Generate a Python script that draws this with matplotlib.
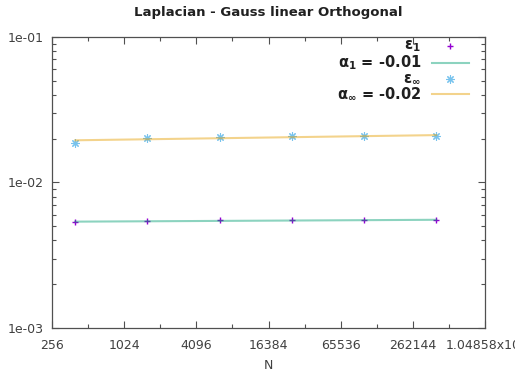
import matplotlib.pyplot as plt
import numpy as np

# number of cells and the two error norms
N = [400, 1600, 6400, 25600, 102400, 409600]
err_1 = [0.00536, 0.00540, 0.00548, 0.00550, 0.00550, 0.00552]
err_inf = [0.01877, 0.0203, 0.02065, 0.0207, 0.0207, 0.0208]

x_ticks = [256, 1024, 4096, 16384, 65536, 262144, 1048576]
x_ticklabels = ['256', '1024', '4096', '16384', '65536', '262144', '1.04858x10⁶']
y_ticks = [1e-3, 1e-2, 1e-1]
y_ticklabels = ['1e-03', '1e-02', '1e-01']

c_e1 = '#9400d3'
c_fit1 = '#009e73'
c_einf = '#56b4e9'
c_fitinf = '#e69f00'

fig = plt.figure(figsize=(5.15, 3.77), dpi=100)
ax = fig.add_axes([0.101, 0.130, 0.841, 0.772])

# power-law fits in log space
logN = np.log(N)
p1 = np.polyfit(logN, np.log(err_1), 1)
pinf = np.polyfit(logN, np.log(err_inf), 1)
xx = np.array([N[0], N[-1]])

ax.plot(N, err_1, '+', color=c_e1, ms=5, mew=1.0)
ax.plot(xx, np.exp(np.polyval(p1, np.log(xx))), color=c_fit1, lw=1.5, alpha=0.45)
ax.plot(N, err_inf, marker=(8, 2, 0), ls='none', color=c_einf, ms=6, mew=0.8, alpha=0.8)
ax.plot(xx, np.exp(np.polyval(pinf, np.log(xx))), color=c_fitinf, lw=1.5, alpha=0.45)

ax.set_xscale('log', base=2)
ax.set_yscale('log')
ax.set_xlim(256, 1048576)
ax.set_ylim(1e-3, 1e-1)

ax.set_xticks(x_ticks)
ax.set_xticklabels(x_ticklabels)
ax.set_xticks([512 * 4 ** k for k in range(6)], minor=True)
ax.set_yticks(y_ticks)
ax.set_yticklabels(y_ticklabels)
ax.set_yticks([m * 10.0 ** e for e in (-3, -2) for m in range(2, 10)], minor=True)
ax.xaxis.set_minor_formatter(plt.NullFormatter())
ax.yaxis.set_minor_formatter(plt.NullFormatter())

for s in ax.spines.values():
    s.set_color('#505050')
    s.set_linewidth(0.9)
ax.tick_params(which='both', direction='in', top=True, right=True, colors='#505050',
               labelcolor='#404040', labelsize=9, width=0.8)
ax.tick_params(which='major', length=5, pad=6)
ax.tick_params(axis='x', which='major', pad=8)
ax.tick_params(which='minor', length=3)

ax.set_xlabel('N', fontsize=9, color='#404040', labelpad=5)
ax.set_title('Laplacian - Gauss linear Orthogonal', fontsize=9.5, fontweight='bold',
             color='#202020', pad=15)

# key in the upper right corner
rows = [0.968, 0.912, 0.857, 0.805]
tx, sx0, sx1 = 0.852, 0.878, 0.962
ax.text(tx, rows[0], r'$\mathbf{\varepsilon}_{\mathbf{1}}$', transform=ax.transAxes,
        ha='right', va='center', fontsize=10.5, color='#202020')
ax.plot([(sx0 + sx1) / 2], [rows[0]], '+', color=c_e1, ms=5, transform=ax.transAxes,
        clip_on=False)
ax.text(tx, rows[1], r'$\mathbf{\alpha_1}$ = -0.01', transform=ax.transAxes,
        ha='right', va='center', fontsize=10.5, fontweight='bold', color='#202020')
ax.plot([sx0, sx1], [rows[1]] * 2, color=c_fit1, lw=1.5, alpha=0.45, transform=ax.transAxes)
ax.text(tx, rows[2], r'$\mathbf{\varepsilon}_{\mathbf{\infty}}$', transform=ax.transAxes,
        ha='right', va='center', fontsize=10.5, color='#202020')
ax.plot([(sx0 + sx1) / 2], [rows[2]], marker=(8, 2, 0), ls='none', color=c_einf, ms=6,
        mew=0.8, alpha=0.8, transform=ax.transAxes)
ax.text(tx, rows[3], r'$\mathbf{\alpha_\infty}$ = -0.02', transform=ax.transAxes,
        ha='right', va='center', fontsize=10.5, fontweight='bold', color='#202020')
ax.plot([sx0, sx1], [rows[3]] * 2, color=c_fitinf, lw=1.5, alpha=0.45, transform=ax.transAxes)

fig.savefig('out.png', dpi=100)
